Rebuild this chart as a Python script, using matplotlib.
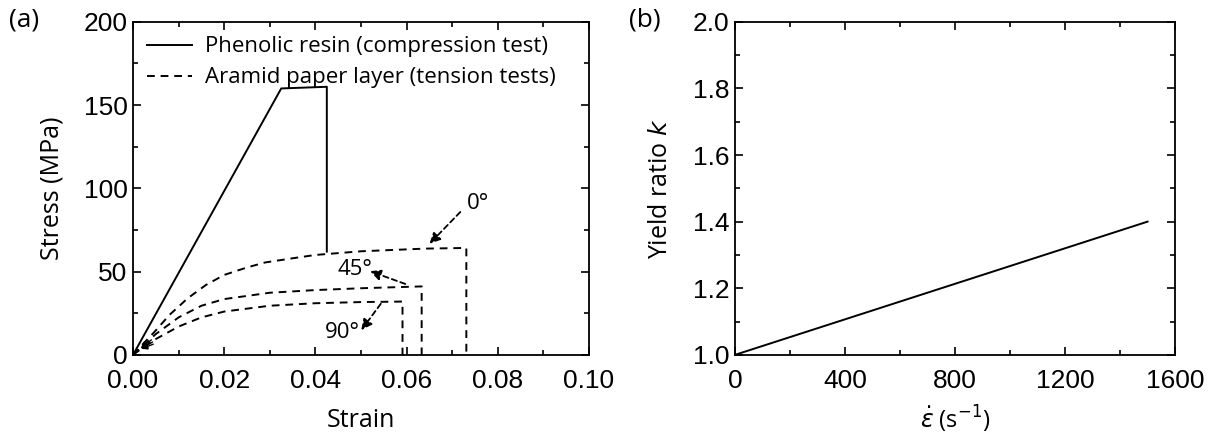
import matplotlib
matplotlib.use("Agg")
import matplotlib.pyplot as plt
from matplotlib.ticker import MultipleLocator

# (a) Phenolic resin, compression test
resin_strain = [0.0, 0.0325, 0.0425, 0.0425]
resin_stress = [0.0, 160.0, 161.0, 62.0]

# (a) Aramid paper layer, tension tests (0, 45, 90 degrees)
strain_0 = [0.0, 0.002, 0.0046, 0.008, 0.012, 0.016, 0.020, 0.025, 0.029, 0.035, 0.040, 0.050, 0.064, 0.0731, 0.0731]
stress_0 = [0.0, 6.0, 13.5, 24.0, 34.0, 42.0, 48.0, 52.5, 55.5, 58.0, 60.0, 62.2, 63.8, 64.2, 0.0]
strain_45 = [0.0, 0.002, 0.005, 0.010, 0.015, 0.020, 0.030, 0.040, 0.050, 0.0633, 0.0633]
stress_45 = [0.0, 5.0, 12.5, 22.5, 29.5, 33.5, 37.3, 38.9, 40.0, 41.1, 0.0]
strain_90 = [0.0, 0.002, 0.005, 0.010, 0.015, 0.020, 0.030, 0.040, 0.050, 0.0591, 0.0591]
stress_90 = [0.0, 4.0, 9.5, 17.0, 22.5, 26.0, 29.5, 31.0, 31.7, 32.0, 0.0]

# (b) yield ratio vs strain rate
rate = [0, 1500]
k_ratio = [1.0, 1.4]

plt.rcParams['font.family'] = ['Liberation Sans', 'DejaVu Sans']
label_font = ['Open Sans', 'DejaVu Sans']

fig = plt.figure(figsize=(12.24, 4.37), dpi=100)
ax1 = fig.add_axes([0.1087, 0.188, 0.3725, 0.762])
ax2 = fig.add_axes([0.6005, 0.188, 0.3595, 0.762])

for ax in (ax1, ax2):
    ax.tick_params(which='both', direction='in', top=True, right=True,
                   labelsize=19, width=1.2)
    ax.tick_params(which='major', length=6)
    ax.tick_params(which='minor', length=3.5)
    ax.tick_params(axis='x', pad=10)
    ax.tick_params(axis='y', pad=4)
    for s in ax.spines.values():
        s.set_linewidth(1.3)

# Panel (a)
dash = (0, (4, 3))
ax1.plot(resin_strain, resin_stress, color='black', lw=1.4,
         label='Phenolic resin (compression test)')
ax1.plot(strain_0, stress_0, color='black', lw=1.4, ls=dash,
         label='Aramid paper layer (tension tests)')
ax1.plot(strain_45, stress_45, color='black', lw=1.4, ls=dash)
ax1.plot(strain_90, stress_90, color='black', lw=1.4, ls=dash)
ax1.set_xlim(0, 0.1)
ax1.set_ylim(0, 200)
ax1.xaxis.set_major_locator(MultipleLocator(0.02))
ax1.xaxis.set_minor_locator(MultipleLocator(0.01))
ax1.yaxis.set_major_locator(MultipleLocator(50))
ax1.yaxis.set_minor_locator(MultipleLocator(25))
ax1.xaxis.set_major_formatter(plt.FormatStrFormatter('%.2f'))
ax1.set_xlabel('Strain', fontsize=18, family=label_font, labelpad=11)
ax1.set_ylabel('Stress (MPa)', fontsize=18, family=label_font, labelpad=14)
ax1.legend(loc='upper left', frameon=False, handlelength=2.0,
           prop={'family': label_font, 'size': 16}, borderaxespad=0.25,
           labelspacing=0.45, handletextpad=0.6)

arrow = dict(arrowstyle='-|>', color='black', lw=1.3, ls=(0, (3, 2)),
             mutation_scale=16)
ax1.annotate('', xy=(0.0646, 65.5), xytext=(0.0722, 87), arrowprops=arrow)
ax1.text(0.0733, 91, '0°', fontsize=16, family=label_font, va='center')
ax1.annotate('', xy=(0.0514, 50.8), xytext=(0.0603, 42), arrowprops=arrow)
ax1.text(0.0448, 51.5, '45°', fontsize=16, family=label_font, va='center')
ax1.annotate('', xy=(0.0497, 13.5), xytext=(0.0547, 32), arrowprops=arrow)
ax1.text(0.0420, 13.5, '90°', fontsize=16, family=label_font, va='center')
# small arrow heads at the origin ends of the tension curves
small = dict(arrowstyle='-|>', color='black', lw=1.0, mutation_scale=9)
for sx, sy in [(0.0045, 10.0), (0.0048, 8.5), (0.005, 7.0)]:
    ax1.annotate('', xy=(0.0012, 3.0), xytext=(sx, sy), arrowprops=small)
fig.text(0.007, 0.955, '(a)', fontsize=19, family=label_font, va='center')

# Panel (b)
ax2.plot(rate, k_ratio, color='black', lw=1.4)
ax2.set_xlim(0, 1600)
ax2.set_ylim(1.0, 2.0)
ax2.xaxis.set_major_locator(MultipleLocator(400))
ax2.xaxis.set_minor_locator(MultipleLocator(200))
ax2.yaxis.set_major_locator(MultipleLocator(0.2))
ax2.yaxis.set_minor_locator(MultipleLocator(0.1))
ax2.yaxis.set_major_formatter(plt.FormatStrFormatter('%.1f'))
ax2.set_xlabel(r'$\dot{\varepsilon}$ (s$^{\mathsf{-1}}$)', fontsize=17,
               family=label_font, labelpad=8)
ax2.set_ylabel(r'Yield ratio $k$', fontsize=18, family=label_font, labelpad=14)
fig.text(0.514, 0.955, '(b)', fontsize=19, family=label_font, va='center')

fig.savefig('out.png', dpi=100)
